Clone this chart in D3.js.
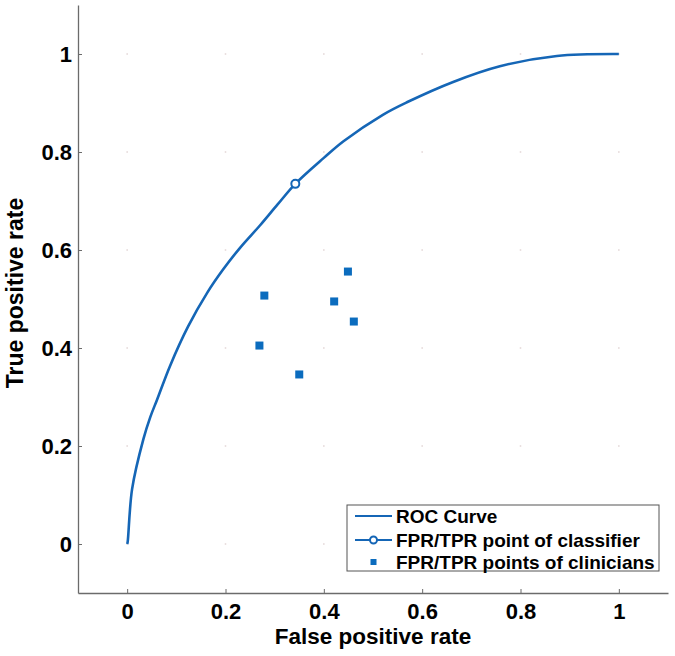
<!DOCTYPE html>
<html>
<head>
<meta charset="utf-8">
<script src="https://cdn.jsdelivr.net/npm/d3@7"></script>
<style>
  body { margin: 0; background: #fff; }
  text { font-family: "Liberation Sans", Arial, Helvetica, sans-serif; }
</style>
</head>
<body>
<div id="chart"></div>
<script>
(function () {
'use strict';
// ROC curve of the classifier vs. clinicians' FPR/TPR points

const rocFpr = [0, 0.001, 0.010, 0.033, 0.047, 0.061, 0.087, 0.124, 0.163, 0.195, 0.230, 0.270, 0.306, 0.342, 0.400, 0.440, 0.520, 0.570, 0.663, 0.758, 0.874, 1.0];
const rocTpr = [0, 0.004, 0.112, 0.214, 0.259, 0.295, 0.363, 0.444, 0.513, 0.560, 0.605, 0.650, 0.693, 0.735, 0.788, 0.822, 0.876, 0.902, 0.943, 0.975, 0.996, 1.0];

const classifierFpr = [0.342];
const classifierTpr = [0.735];

const clinicianFpr = [0.279, 0.269, 0.421, 0.449, 0.461, 0.350];
const clinicianTpr = [0.507, 0.405, 0.495, 0.556, 0.454, 0.346];

const tickValues = [0, 0.2, 0.4, 0.6, 0.8, 1];
const tickLabels = ["0", "0.2", "0.4", "0.6", "0.8", "1"];

const legendLabels = ["ROC Curve", "FPR/TPR point of classifier", "FPR/TPR points of clinicians"];

const COLOR_LINE = "#1566b6";
const COLOR_SQ = "#0b6cbe";
const AXIS_COLOR = "#6b6b6b";

const width = 675, height = 656;
const margin = {top: 5, right: 7, bottom: 63, left: 78};
const innerW = width - margin.left - margin.right;
const innerH = height - margin.top - margin.bottom;

const svg = d3.select("#chart").append("svg")
  .attr("width", width).attr("height", height);
const g = svg.append("g").attr("transform", `translate(${margin.left},${margin.top})`);

const x = d3.scaleLinear().domain([-0.1, 1.1]).range([0, innerW]);
const y = d3.scaleLinear().domain([-0.1, 1.1]).range([innerH, 0]);

// dotted grid -> only faint dots at intersections
const grid = [];
tickValues.forEach(a => tickValues.forEach(b => grid.push([a, b])));
g.selectAll("rect.grid").data(grid).join("rect")
  .attr("class", "grid")
  .attr("x", d => x(d[0]) - 0.75).attr("y", d => y(d[1]) - 0.75)
  .attr("width", 1.5).attr("height", 1.5)
  .attr("fill", "#e2d6d6");

// axes
const fmt = (d, i) => tickLabels[i];
const xAxisG = g.append("g").attr("transform", `translate(0,${innerH})`)
  .call(d3.axisBottom(x).tickValues(tickValues).tickFormat(fmt).tickSizeInner(-4).tickSizeOuter(0).tickPadding(10));
const yAxisG = g.append("g")
  .call(d3.axisLeft(y).tickValues(tickValues).tickFormat(fmt).tickSizeInner(-4).tickSizeOuter(0).tickPadding(6));

[xAxisG, yAxisG].forEach(a => {
  a.select(".domain").attr("stroke", AXIS_COLOR).attr("stroke-width", 1.3);
  a.selectAll(".tick line").attr("stroke", AXIS_COLOR);
  a.selectAll(".tick text")
    .attr("fill", "#000")
    .attr("font-size", 22)
    .attr("font-weight", "bold")
    .style("font-family", '"Liberation Sans", Arial, sans-serif');
});
xAxisG.selectAll(".tick text").attr("dy", "0.72em");

// axis titles
svg.append("text")
  .attr("x", margin.left + innerW / 2).attr("y", 644)
  .attr("text-anchor", "middle")
  .attr("font-size", 22.5).attr("font-weight", "bold")
  .text("False positive rate");

svg.append("text")
  .attr("transform", "translate(23,293) rotate(-90)")
  .attr("text-anchor", "middle")
  .attr("font-size", 23).attr("font-weight", "bold")
  .text("True positive rate");

// ROC curve
const rocData = rocFpr.map((v, i) => ({fpr: v, tpr: rocTpr[i]}));
const line = d3.line().x(d => x(d.fpr)).y(d => y(d.tpr)).curve(d3.curveCatmullRom.alpha(0.5));
g.append("path")
  .datum(rocData)
  .attr("d", line)
  .attr("fill", "none")
  .attr("stroke", COLOR_LINE)
  .attr("stroke-width", 2.6)
  .attr("stroke-linejoin", "round");

// clinicians
const clin = clinicianFpr.map((v, i) => ({fpr: v, tpr: clinicianTpr[i]}));
const sq = 8;
g.selectAll("rect.clin").data(clin).join("rect")
  .attr("class", "clin")
  .attr("x", d => x(d.fpr) - sq / 2).attr("y", d => y(d.tpr) - sq / 2)
  .attr("width", sq).attr("height", sq)
  .attr("fill", COLOR_SQ);

// classifier point
const cls = classifierFpr.map((v, i) => ({fpr: v, tpr: classifierTpr[i]}));
g.selectAll("circle.cls").data(cls).join("circle")
  .attr("class", "cls")
  .attr("cx", d => x(d.fpr)).attr("cy", d => y(d.tpr))
  .attr("r", 4)
  .attr("fill", "#fff")
  .attr("stroke", COLOR_LINE)
  .attr("stroke-width", 2);

// legend
const lg = svg.append("g").attr("transform", "translate(347,505)");
lg.append("rect")
  .attr("width", 312).attr("height", 66)
  .attr("fill", "#fff")
  .attr("stroke", "#555").attr("stroke-width", 1);

const rowsY = [11, 35, 57];
legendLabels.forEach((lab, i) => {
  const ry = rowsY[i];
  if (i < 2) {
    lg.append("line")
      .attr("x1", 8).attr("x2", 45).attr("y1", ry).attr("y2", ry)
      .attr("stroke", COLOR_LINE).attr("stroke-width", 2);
  }
  if (i === 1) {
    lg.append("circle").attr("cx", 26.5).attr("cy", ry).attr("r", 3.5)
      .attr("fill", "#fff").attr("stroke", COLOR_LINE).attr("stroke-width", 2);
  }
  if (i === 2) {
    lg.append("rect").attr("x", 23.5).attr("y", ry - 3).attr("width", 6).attr("height", 6)
      .attr("fill", COLOR_SQ);
  }
  lg.append("text")
    .attr("x", 49).attr("y", ry).attr("dy", "0.36em")
    .attr("font-size", 19).attr("font-weight", "bold")
    .text(lab);
});
})();
</script>
</body>
</html>
